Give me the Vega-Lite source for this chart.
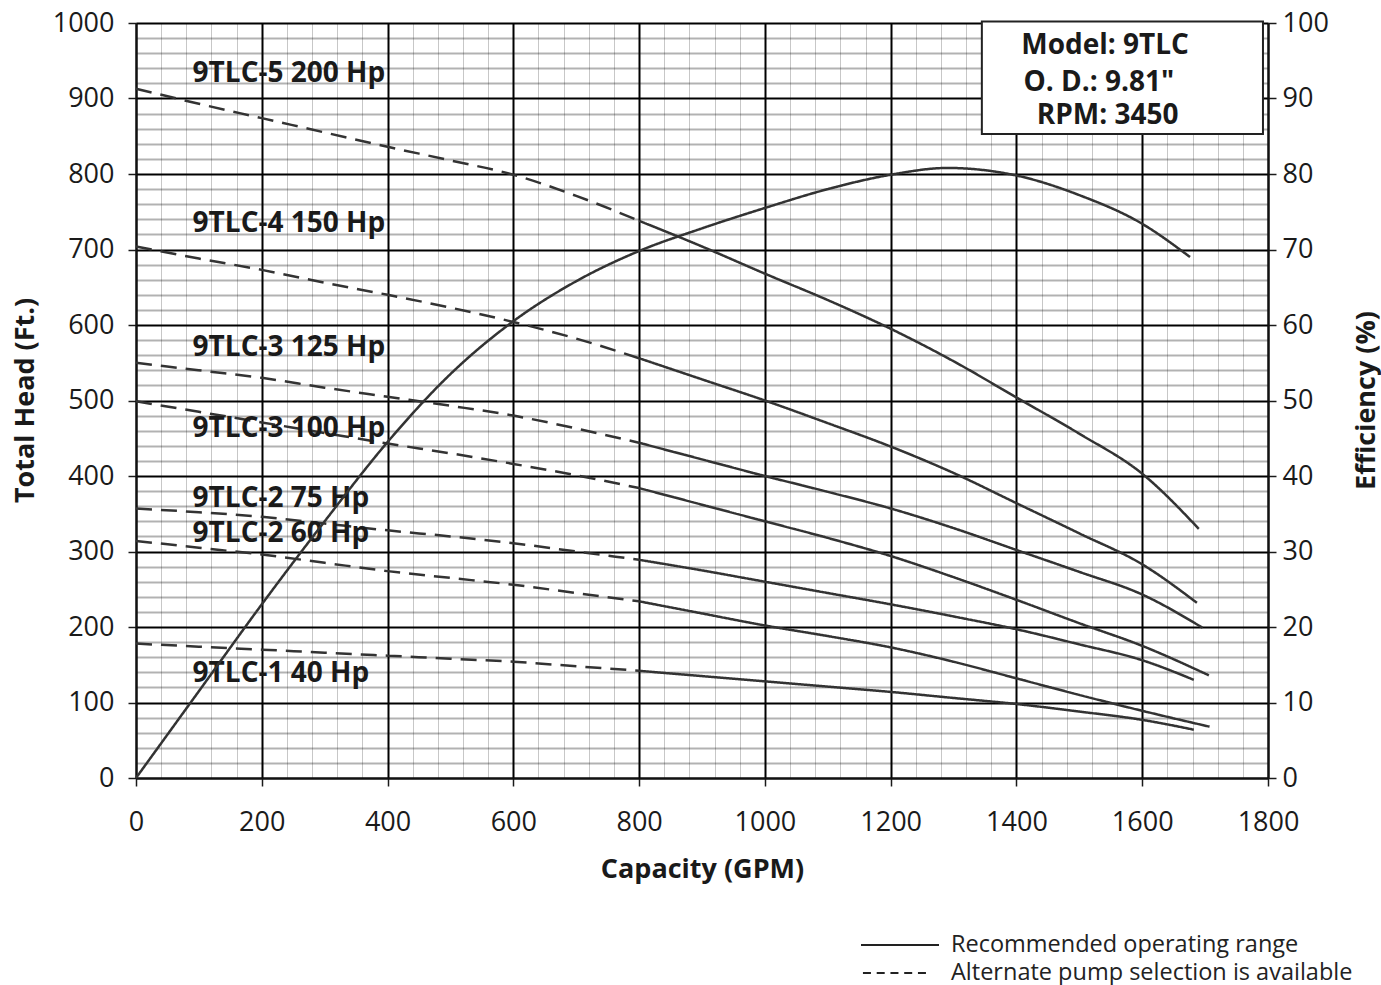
{
  "$schema": "https://vega.github.io/schema/vega-lite/v6.json",
  "width": 1132,
  "height": 755,
  "autosize": {"type": "none"},
  "padding": {"left": 136, "top": 23, "right": 113, "bottom": 207},
  "background": "#ffffff",
  "config": {
    "font": "Open Sans",
    "view": {"stroke": null},
    "axis": {
      "labelFont": "Open Sans",
      "labelFontSize": 27,
      "labelColor": "#1a1a1a",
      "titleFont": "Open Sans",
      "titleFontSize": 27,
      "titleFontWeight": "bold",
      "titleColor": "#1a1a1a",
      "tickColor": "#1a1a1a",
      "tickWidth": 1.5,
      "tickSize": 8,
      "domainColor": "#111111",
      "domainWidth": 2,
      "labelFlush": false,
      "labelOverlap": false,
      "labelBound": false,
      "format": "d"
    }
  },
  "datasets": {
    "heads": [
      {"p": "200", "s": "alt", "q": 0, "h": 913}, {"p": "200", "s": "alt", "q": 100, "h": 893}, {"p": "200", "s": "alt", "q": 200, "h": 874}, {"p": "200", "s": "alt", "q": 300, "h": 855}, {"p": "200", "s": "alt", "q": 400, "h": 836}, {"p": "200", "s": "alt", "q": 500, "h": 818}, {"p": "200", "s": "alt", "q": 600, "h": 799}, {"p": "200", "s": "alt", "q": 700, "h": 771}, {"p": "200", "s": "alt", "q": 800, "h": 738},
      {"p": "200", "s": "rec", "q": 800, "h": 738}, {"p": "200", "s": "rec", "q": 900, "h": 704}, {"p": "200", "s": "rec", "q": 1000, "h": 668}, {"p": "200", "s": "rec", "q": 1100, "h": 633}, {"p": "200", "s": "rec", "q": 1200, "h": 595}, {"p": "200", "s": "rec", "q": 1300, "h": 552}, {"p": "200", "s": "rec", "q": 1400, "h": 504}, {"p": "200", "s": "rec", "q": 1500, "h": 456}, {"p": "200", "s": "rec", "q": 1600, "h": 403}, {"p": "200", "s": "rec", "q": 1690, "h": 330},
      {"p": "150", "s": "alt", "q": 0, "h": 704}, {"p": "150", "s": "alt", "q": 100, "h": 688}, {"p": "150", "s": "alt", "q": 200, "h": 673}, {"p": "150", "s": "alt", "q": 300, "h": 656}, {"p": "150", "s": "alt", "q": 400, "h": 640}, {"p": "150", "s": "alt", "q": 500, "h": 623}, {"p": "150", "s": "alt", "q": 600, "h": 604}, {"p": "150", "s": "alt", "q": 700, "h": 582}, {"p": "150", "s": "alt", "q": 800, "h": 556},
      {"p": "150", "s": "rec", "q": 800, "h": 556}, {"p": "150", "s": "rec", "q": 900, "h": 528}, {"p": "150", "s": "rec", "q": 1000, "h": 500}, {"p": "150", "s": "rec", "q": 1100, "h": 470}, {"p": "150", "s": "rec", "q": 1200, "h": 439}, {"p": "150", "s": "rec", "q": 1300, "h": 404}, {"p": "150", "s": "rec", "q": 1400, "h": 364}, {"p": "150", "s": "rec", "q": 1500, "h": 324}, {"p": "150", "s": "rec", "q": 1600, "h": 283}, {"p": "150", "s": "rec", "q": 1687, "h": 232},
      {"p": "125", "s": "alt", "q": 0, "h": 550}, {"p": "125", "s": "alt", "q": 100, "h": 540}, {"p": "125", "s": "alt", "q": 200, "h": 530}, {"p": "125", "s": "alt", "q": 300, "h": 517}, {"p": "125", "s": "alt", "q": 400, "h": 505}, {"p": "125", "s": "alt", "q": 500, "h": 493}, {"p": "125", "s": "alt", "q": 600, "h": 480}, {"p": "125", "s": "alt", "q": 700, "h": 463}, {"p": "125", "s": "alt", "q": 800, "h": 444},
      {"p": "125", "s": "rec", "q": 800, "h": 444}, {"p": "125", "s": "rec", "q": 900, "h": 422}, {"p": "125", "s": "rec", "q": 1000, "h": 400}, {"p": "125", "s": "rec", "q": 1100, "h": 379}, {"p": "125", "s": "rec", "q": 1200, "h": 357}, {"p": "125", "s": "rec", "q": 1300, "h": 331}, {"p": "125", "s": "rec", "q": 1400, "h": 302}, {"p": "125", "s": "rec", "q": 1500, "h": 273}, {"p": "125", "s": "rec", "q": 1600, "h": 243}, {"p": "125", "s": "rec", "q": 1696, "h": 199},
      {"p": "100", "s": "alt", "q": 0, "h": 499}, {"p": "100", "s": "alt", "q": 100, "h": 485}, {"p": "100", "s": "alt", "q": 200, "h": 471}, {"p": "100", "s": "alt", "q": 300, "h": 457}, {"p": "100", "s": "alt", "q": 400, "h": 443}, {"p": "100", "s": "alt", "q": 500, "h": 430}, {"p": "100", "s": "alt", "q": 600, "h": 416}, {"p": "100", "s": "alt", "q": 700, "h": 401}, {"p": "100", "s": "alt", "q": 800, "h": 384},
      {"p": "100", "s": "rec", "q": 800, "h": 384}, {"p": "100", "s": "rec", "q": 900, "h": 362}, {"p": "100", "s": "rec", "q": 1000, "h": 340}, {"p": "100", "s": "rec", "q": 1100, "h": 318}, {"p": "100", "s": "rec", "q": 1200, "h": 294}, {"p": "100", "s": "rec", "q": 1300, "h": 266}, {"p": "100", "s": "rec", "q": 1400, "h": 236}, {"p": "100", "s": "rec", "q": 1500, "h": 205}, {"p": "100", "s": "rec", "q": 1600, "h": 175}, {"p": "100", "s": "rec", "q": 1706, "h": 136},
      {"p": "75", "s": "alt", "q": 0, "h": 357}, {"p": "75", "s": "alt", "q": 100, "h": 352}, {"p": "75", "s": "alt", "q": 200, "h": 346}, {"p": "75", "s": "alt", "q": 300, "h": 337}, {"p": "75", "s": "alt", "q": 400, "h": 328}, {"p": "75", "s": "alt", "q": 500, "h": 320}, {"p": "75", "s": "alt", "q": 600, "h": 311}, {"p": "75", "s": "alt", "q": 700, "h": 300}, {"p": "75", "s": "alt", "q": 800, "h": 289},
      {"p": "75", "s": "rec", "q": 800, "h": 289}, {"p": "75", "s": "rec", "q": 900, "h": 275}, {"p": "75", "s": "rec", "q": 1000, "h": 260}, {"p": "75", "s": "rec", "q": 1100, "h": 245}, {"p": "75", "s": "rec", "q": 1200, "h": 230}, {"p": "75", "s": "rec", "q": 1300, "h": 214}, {"p": "75", "s": "rec", "q": 1400, "h": 197}, {"p": "75", "s": "rec", "q": 1500, "h": 177}, {"p": "75", "s": "rec", "q": 1600, "h": 156}, {"p": "75", "s": "rec", "q": 1682, "h": 130},
      {"p": "60", "s": "alt", "q": 0, "h": 314}, {"p": "60", "s": "alt", "q": 100, "h": 305}, {"p": "60", "s": "alt", "q": 200, "h": 296}, {"p": "60", "s": "alt", "q": 300, "h": 285}, {"p": "60", "s": "alt", "q": 400, "h": 274}, {"p": "60", "s": "alt", "q": 500, "h": 265}, {"p": "60", "s": "alt", "q": 600, "h": 256}, {"p": "60", "s": "alt", "q": 700, "h": 245}, {"p": "60", "s": "alt", "q": 800, "h": 234},
      {"p": "60", "s": "rec", "q": 800, "h": 234}, {"p": "60", "s": "rec", "q": 900, "h": 218}, {"p": "60", "s": "rec", "q": 1000, "h": 202}, {"p": "60", "s": "rec", "q": 1100, "h": 188}, {"p": "60", "s": "rec", "q": 1200, "h": 173}, {"p": "60", "s": "rec", "q": 1300, "h": 154}, {"p": "60", "s": "rec", "q": 1400, "h": 132}, {"p": "60", "s": "rec", "q": 1500, "h": 110}, {"p": "60", "s": "rec", "q": 1600, "h": 89}, {"p": "60", "s": "rec", "q": 1707, "h": 68},
      {"p": "40", "s": "alt", "q": 0, "h": 178}, {"p": "40", "s": "alt", "q": 100, "h": 174}, {"p": "40", "s": "alt", "q": 200, "h": 170}, {"p": "40", "s": "alt", "q": 300, "h": 166}, {"p": "40", "s": "alt", "q": 400, "h": 162}, {"p": "40", "s": "alt", "q": 500, "h": 158}, {"p": "40", "s": "alt", "q": 600, "h": 154}, {"p": "40", "s": "alt", "q": 700, "h": 148}, {"p": "40", "s": "alt", "q": 800, "h": 142},
      {"p": "40", "s": "rec", "q": 800, "h": 142}, {"p": "40", "s": "rec", "q": 900, "h": 135}, {"p": "40", "s": "rec", "q": 1000, "h": 128}, {"p": "40", "s": "rec", "q": 1100, "h": 121}, {"p": "40", "s": "rec", "q": 1200, "h": 114}, {"p": "40", "s": "rec", "q": 1300, "h": 106}, {"p": "40", "s": "rec", "q": 1400, "h": 98}, {"p": "40", "s": "rec", "q": 1500, "h": 88}, {"p": "40", "s": "rec", "q": 1600, "h": 77}, {"p": "40", "s": "rec", "q": 1682, "h": 64}
    ],
    "eff": [
      {"q": 0, "e": 0}, {"q": 100, "e": 11.5}, {"q": 200, "e": 23}, {"q": 300, "e": 34}, {"q": 400, "e": 44.5}, {"q": 500, "e": 53.5}, {"q": 600, "e": 60.5}, {"q": 700, "e": 65.8}, {"q": 800, "e": 69.8}, {"q": 900, "e": 72.8}, {"q": 1000, "e": 75.5}, {"q": 1100, "e": 78}, {"q": 1200, "e": 79.9}, {"q": 1290, "e": 80.8}, {"q": 1400, "e": 79.8}, {"q": 1500, "e": 77.2}, {"q": 1600, "e": 73.4}, {"q": 1676, "e": 69}
    ],
    "labels": [
      {"q": 90, "h": 933, "t": "9TLC-5 200 Hp"},
      {"q": 90, "h": 734, "t": "9TLC-4 150 Hp"},
      {"q": 90, "h": 569, "t": "9TLC-3 125 Hp"},
      {"q": 90, "h": 462, "t": "9TLC-3 100 Hp"},
      {"q": 90, "h": 370, "t": "9TLC-2 75 Hp"},
      {"q": 90, "h": 323, "t": "9TLC-2 60 Hp"},
      {"q": 90, "h": 138, "t": "9TLC-1 40 Hp"}
    ],
    "box": [{"x1": 1345, "x2": 1792, "y1": 853, "y2": 1002}],
    "boxtext": [
      {"q": 1541, "h": 969, "t": "Model: 9TLC"},
      {"q": 1531, "h": 921, "t": "O. D.: 9.81\""},
      {"q": 1545, "h": 877, "t": "RPM: 3450"}
    ]
  },
  "layer": [
    {
      "data": {"name": "heads"},
      "mark": {"type": "line", "interpolate": "monotone", "color": "#333333", "strokeWidth": 2.5},
      "encoding": {
        "x": {
          "field": "q", "type": "quantitative",
          "scale": {"domain": [0, 1800], "nice": false},
          "axis": {
            "title": "Capacity (GPM)",
            "values": [0,40,80,120,160,200,240,280,320,360,400,440,480,520,560,600,640,680,720,760,800,840,880,920,960,1000,1040,1080,1120,1160,1200,1240,1280,1320,1360,1400,1440,1480,1520,1560,1600,1640,1680,1720,1760,1800],
            "labelExpr": "datum.value % 200 === 0 ? datum.label : ''",
            "grid": true,
            "gridColor": "#000000",
            "gridOpacity": {"condition": {"test": "datum.value % 200 === 0", "value": 1}, "value": 0.22},
            "gridWidth": {"condition": {"test": "datum.value % 200 === 0", "value": 2}, "value": 1},
            "tickOpacity": {"condition": {"test": "datum.value % 200 === 0", "value": 1}, "value": 0},
            "labelPadding": 23,
            "titlePadding": 21
          }
        },
        "y": {
          "field": "h", "type": "quantitative",
          "scale": {"domain": [0, 1000], "nice": false},
          "axis": {
            "title": "Total Head (Ft.)",
            "titleX": -111,
            "titleY": 377,
            "titleAngle": 270,
            "titleAlign": "center",
            "titleBaseline": "middle",
            "values": [0,20,40,60,80,100,120,140,160,180,200,220,240,260,280,300,320,340,360,380,400,420,440,460,480,500,520,540,560,580,600,620,640,660,680,700,720,740,760,780,800,820,840,860,880,900,920,940,960,980,1000],
            "labelExpr": "datum.value % 100 === 0 ? datum.label : ''",
            "grid": true,
            "gridColor": "#000000",
            "gridOpacity": {"condition": {"test": "datum.value % 100 === 0", "value": 1}, "value": 0.3},
            "gridWidth": 2,
            "tickOpacity": {"condition": {"test": "datum.value % 100 === 0", "value": 1}, "value": 0},
            "labelPadding": 14
          }
        },
        "detail": [{"field": "p", "type": "nominal"}, {"field": "s", "type": "nominal"}],
        "strokeDash": {"condition": {"test": "datum.s === 'alt'", "value": [16, 9]}, "value": [1, 0]}
      }
    },
    {
      "data": {"name": "box"},
      "mark": {"type": "rect", "fill": "#ffffff", "stroke": "#222222", "strokeWidth": 2},
      "encoding": {
        "x": {"field": "x1", "type": "quantitative", "axis": null},
        "x2": {"field": "x2"},
        "y": {"field": "y1", "type": "quantitative", "scale": {"domain": [0, 1000], "nice": false}, "axis": null},
        "y2": {"field": "y2"}
      }
    },
    {
      "data": {"name": "boxtext"},
      "mark": {"type": "text", "align": "center", "baseline": "middle", "font": "Open Sans", "fontSize": 28, "fontWeight": "bold", "color": "#1a1a1a"},
      "encoding": {
        "x": {"field": "q", "type": "quantitative", "axis": null},
        "y": {"field": "h", "type": "quantitative", "scale": {"domain": [0, 1000], "nice": false}, "axis": null},
        "text": {"field": "t"}
      }
    },
    {
      "data": {"name": "labels"},
      "mark": {"type": "text", "align": "left", "baseline": "middle", "font": "Open Sans", "fontSize": 28, "fontWeight": "bold", "color": "#1a1a1a"},
      "encoding": {
        "x": {"field": "q", "type": "quantitative", "axis": null},
        "y": {"field": "h", "type": "quantitative", "scale": {"domain": [0, 1000], "nice": false}, "axis": null},
        "text": {"field": "t"}
      }
    },
    {
      "data": {"name": "eff"},
      "mark": {"type": "line", "interpolate": "monotone", "color": "#333333", "strokeWidth": 2.5},
      "encoding": {
        "x": {"field": "q", "type": "quantitative", "axis": null},
        "y": {
          "field": "e", "type": "quantitative",
          "scale": {"domain": [0, 100], "nice": false},
          "axis": {
            "orient": "right",
            "title": "Efficiency (%)",
            "titleX": 98,
            "titleY": 377,
            "titleAngle": 270,
            "titleAlign": "center",
            "titleBaseline": "middle",
            "values": [0,10,20,30,40,50,60,70,80,90,100],
            "grid": false,
            "labelPadding": 6
          }
        },
        "strokeDash": {
          "datum": "rec", "type": "nominal",
          "scale": {"domain": ["rec", "alt"], "range": [[1, 0], [8, 5.75]]},
          "legend": {
            "orient": "none",
            "legendX": 750,
            "legendY": 908,
            "title": null,
            "padding": 0,
            "labelExpr": "datum.value === 'rec' ? 'Recommended operating range' : 'Alternate pump selection is available'",
            "symbolType": "M-3,0H3",
            "symbolSize": 676,
            "symbolStrokeWidth": 2,
            "symbolStrokeColor": "#222222",
            "labelFont": "Open Sans",
            "labelFontSize": 23.5,
            "labelLimit": 600,
            "labelColor": "#222222",
            "labelOffset": 37,
            "rowPadding": 2,
            "encode": {
              "symbols": {
                "update": {
                  "shape": [{"test": "datum.value === 'alt'", "value": "M-2.85,0H2"}, {"value": "M-3,0H3"}]
                }
              }
            }
          }
        }
      }
    }
  ],
  "resolve": {"scale": {"y": "independent"}, "axis": {"x": "independent"}}
}
